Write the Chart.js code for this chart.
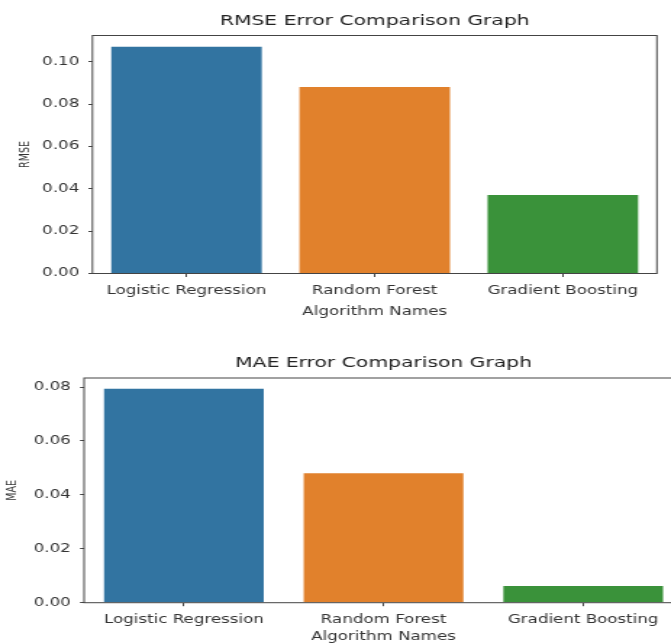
<!DOCTYPE html>
<html><head><meta charset="utf-8">
<script src="https://cdn.jsdelivr.net/npm/chart.js@4.4.1/dist/chart.umd.min.js"></script>
<style>
html,body{margin:0;padding:0;background:#fff;overflow:hidden;width:671px;height:644px;}
.wrap{position:absolute;left:0;transform-origin:0 0;transform:scaleX(1.4492);}
canvas{display:block;}
</style></head><body>
<div class="wrap" style="top:0"><canvas id="c1" width="463" height="322"></canvas></div>
<div class="wrap" style="top:322px"><canvas id="c2" width="480" height="322"></canvas></div>
<script>
const categories = ['Logistic Regression', 'Random Forest', 'Gradient Boosting'];
const rmseValues = [0.107, 0.088, 0.037];
const maeValues = [0.0794, 0.048, 0.0062];
const rmseTicks = [0, 0.02, 0.04, 0.06, 0.08, 0.10];
const maeTicks = [0, 0.02, 0.04, 0.06, 0.08];
const barColors = ['#3274a1', '#e1812c', '#3a923a'];
const FONT = "'DejaVu Sans', sans-serif";
const INK = '#333';
const SPINE = '#444';

const framePlugin = {
  id: 'frame',
  afterDraw(chart) {
    const { ctx, chartArea: a } = chart;
    ctx.save();
    ctx.strokeStyle = SPINE;
    ctx.lineWidth = 1;
    ctx.strokeRect(a.left, a.top, a.right - a.left, a.bottom - a.top);
    ctx.restore();
  }
};

function makeChart(id, values, tickVals, title, yLabel, L) {
  const ymax = Math.max(...values) * 1.05;
  return new Chart(document.getElementById(id), {
    type: 'bar',
    data: {
      labels: categories,
      datasets: [{
        data: values,
        backgroundColor: barColors,
        borderWidth: 0,
        categoryPercentage: 0.8,
        barPercentage: 1.0
      }]
    },
    plugins: [framePlugin],
    options: {
      responsive: false,
      animation: false,
      devicePixelRatio: 1,
      layout: { padding: { left: 0, right: L.padRight, top: 0, bottom: 0 } },
      plugins: {
        legend: { display: false },
        tooltip: { enabled: false },
        title: {
          display: true,
          fullSize: false,
          text: title,
          color: '#222',
          font: { family: FONT, size: 14, weight: 'normal', lineHeight: 1.2 },
          padding: { top: L.titleTop, bottom: L.titleBottom }
        }
      },
      scales: {
        x: {
          type: 'category',
          offset: true,
          border: { display: false },
          grid: { display: true, drawOnChartArea: false, offset: false, tickLength: 3.5, color: SPINE, tickColor: SPINE },
          ticks: { color: INK, font: { family: FONT, size: 11.5 }, padding: L.xTickPad, maxRotation: 0, autoSkip: false },
          title: { display: true, text: 'Algorithm Names', color: INK, font: { family: FONT, size: 11.5 }, padding: { top: 0, bottom: L.xTitlePad } },
          afterFit(s) { s.height = L.xHeight; }
        },
        y: {
          min: 0,
          max: ymax,
          border: { display: false },
          grid: { display: true, drawOnChartArea: false, tickLength: 2.8, color: SPINE, tickColor: SPINE },
          ticks: { color: INK, font: { family: FONT, size: 11.5 }, padding: 6.3, callback: v => Number(v).toFixed(2) },
          afterBuildTicks(s) { s.ticks = tickVals.map(v => ({ value: v })); },
          title: { display: true, text: yLabel, color: INK, font: { family: FONT, size: 9.5 }, padding: { top: L.yTitlePad, bottom: 0 } },
          afterFit(s) { s.width = L.yWidth; }
        }
      }
    }
  });
}

makeChart('c1', rmseValues, rmseTicks, 'RMSE Error Comparison Graph', 'RMSE', {
  padRight: 9.7, titleTop: 12.5, titleBottom: 6.2, xHeight: 48.5, yWidth: 63.8,
  yTitlePad: 12.2, xTickPad: 7.5, xTitlePad: 2.6
});
makeChart('c2', maeValues, maeTicks, 'MAE Error Comparison Graph', 'MAE', {
  padRight: 8.7, titleTop: 32.6, titleBottom: 6.6, xHeight: 41.3, yWidth: 58.0,
  yTitlePad: 3.3, xTickPad: 6.5, xTitlePad: 0
});
</script>
</body></html>
